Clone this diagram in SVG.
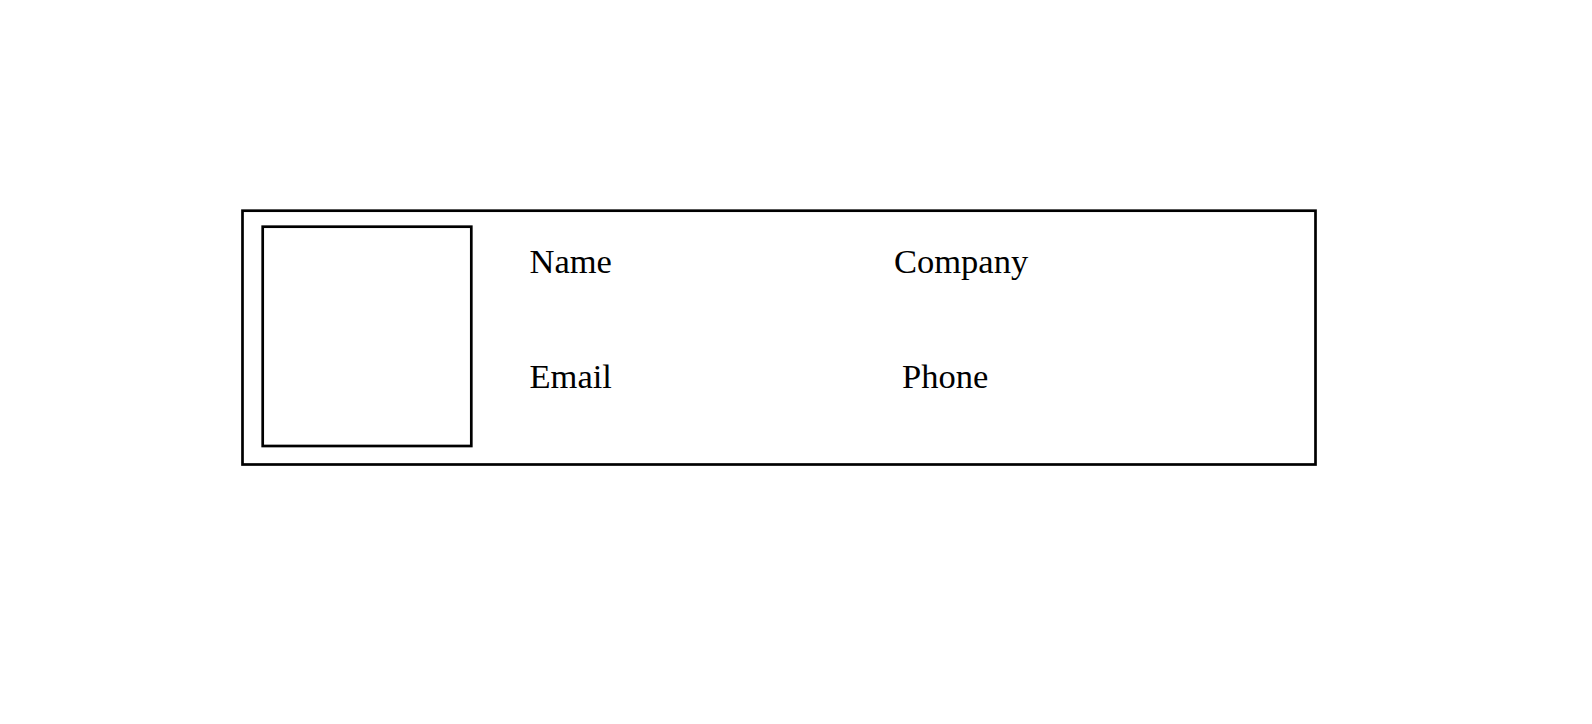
<svg xmlns="http://www.w3.org/2000/svg" width="1592" height="724" viewBox="0 0 1592 724">
<style>
.box{fill:none;stroke:#000;stroke-width:2.7}
.lbl{font-family:"Liberation Serif","Times New Roman",serif;font-size:34.5px;fill:#000}
</style>
<rect width="1592" height="724" fill="#fff"/>
<g id="card">
<rect class="box" x="242.5" y="210.7" width="1073" height="253.8"/>
</g>
<g id="photo">
<rect class="box" x="262.7" y="226.7" width="208.6" height="219.3"/>
</g>
<g id="name"><text class="lbl" x="529.5" y="273">Name</text></g>
<g id="company"><text class="lbl" x="894" y="273">Company</text></g>
<g id="email"><text class="lbl" x="529.5" y="387.7">Email</text></g>
<g id="phone"><text class="lbl" x="902" y="387.7">Phone</text></g>
<g id="connectors"></g>
</svg>
